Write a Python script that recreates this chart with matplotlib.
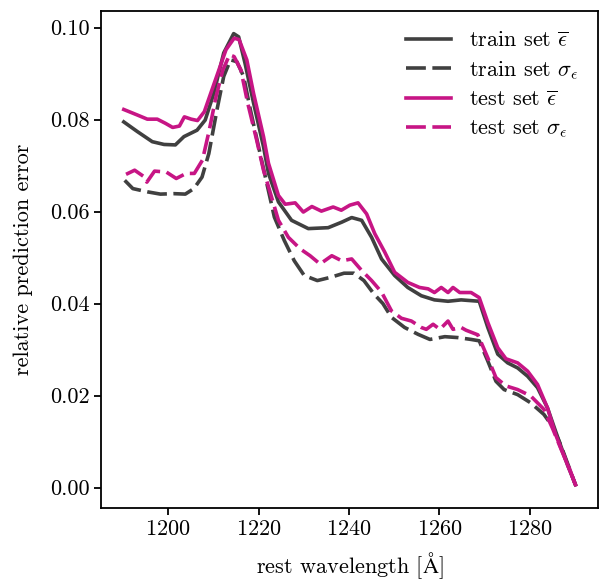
import matplotlib
matplotlib.use("Agg")
import matplotlib.pyplot as plt

plt.rcParams.update({
    "font.family": ["serif"],
    "font.serif": ["cmr10", "DejaVu Serif"],
    "mathtext.fontset": "cm",
    "axes.formatter.use_mathtext": True,
    "font.size": 16,
})

# train set mean error
wl_train_mean = [1190.2, 1193.2, 1196.5, 1199.1, 1201.6, 1203.5, 1206.4, 1208.2, 1210.1, 1212.3,
                 1214.5, 1215.6, 1217.0, 1218.9, 1221.1, 1222.2, 1224.4, 1227.3, 1231.0, 1235.4,
                 1238.4, 1240.6, 1242.8, 1245.0, 1247.2, 1250.1, 1253.0, 1256.0, 1258.9, 1261.9,
                 1264.8, 1268.8, 1270.7, 1272.9, 1275.1, 1277.3, 1279.5, 1281.7, 1283.9, 1285.7,
                 1288.3, 1290.1]
train_mean = [0.0795, 0.0774, 0.0752, 0.0746, 0.0745, 0.0763, 0.0777, 0.0799, 0.0857, 0.0945,
              0.0987, 0.0980, 0.0923, 0.0836, 0.0741, 0.0683, 0.0621, 0.0581, 0.0563, 0.0565,
              0.0577, 0.0587, 0.0581, 0.0544, 0.0497, 0.0461, 0.0435, 0.0417, 0.0408, 0.0405,
              0.0408, 0.0405, 0.0348, 0.0290, 0.0271, 0.0260, 0.0242, 0.0217, 0.0173, 0.0122,
              0.0050, 0.0006]

# train set sigma
wl_train_sig = [1190.4, 1192.2, 1195.4, 1198.3, 1201.3, 1203.8, 1205.7, 1207.5, 1209.0, 1210.8,
                1212.3, 1213.8, 1215.2, 1216.7, 1218.2, 1219.8, 1221.4, 1223.5, 1225.7, 1227.9,
                1230.1, 1233.0, 1235.9, 1238.9, 1241.1, 1243.3, 1245.5, 1247.5, 1249.4, 1252.3,
                1255.3, 1257.9, 1261.2, 1264.1, 1267.0, 1268.8, 1270.7, 1272.5, 1274.3, 1277.3,
                1280.2, 1283.1, 1285.0, 1286.8, 1289.0, 1290.1]
train_sig = [0.0668, 0.0650, 0.0643, 0.0638, 0.0639, 0.0638, 0.0650, 0.0675, 0.0726, 0.0821,
             0.0894, 0.0930, 0.0926, 0.0894, 0.0821, 0.0750, 0.0680, 0.0588, 0.0537, 0.0493,
             0.0461, 0.0450, 0.0457, 0.0466, 0.0466, 0.0450, 0.0421, 0.0400, 0.0370, 0.0348,
             0.0333, 0.0322, 0.0328, 0.0326, 0.0322, 0.0319, 0.0275, 0.0231, 0.0213, 0.0202,
             0.0184, 0.0159, 0.0133, 0.0093, 0.0035, 0.0005]

# test set mean error
wl_test_mean = [1190.2, 1193.2, 1195.4, 1197.6, 1199.4, 1201.0, 1202.5, 1203.6, 1205.1, 1206.5,
                1208.0, 1210.2, 1212.8, 1214.6, 1215.7, 1217.4, 1218.9, 1221.1, 1222.2, 1224.4,
                1225.9, 1228.1, 1229.9, 1231.8, 1233.9, 1236.5, 1238.3, 1240.2, 1242.0, 1243.9,
                1245.7, 1247.9, 1250.1, 1253.0, 1255.6, 1257.5, 1258.9, 1260.4, 1261.9, 1263.0,
                1264.5, 1267.0, 1268.8, 1270.7, 1272.9, 1274.7, 1277.3, 1279.5, 1281.7, 1283.9,
                1285.7, 1288.3, 1290.1]
test_mean = [0.0822, 0.0810, 0.0801, 0.0801, 0.0792, 0.0783, 0.0786, 0.0806, 0.0801, 0.0798,
             0.0817, 0.0879, 0.0952, 0.0977, 0.0974, 0.0930, 0.0857, 0.0763, 0.0705, 0.0635,
             0.0616, 0.0619, 0.0599, 0.0611, 0.0601, 0.0610, 0.0603, 0.0614, 0.0619, 0.0595,
             0.0552, 0.0512, 0.0468, 0.0446, 0.0435, 0.0432, 0.0424, 0.0435, 0.0424, 0.0435,
             0.0424, 0.0424, 0.0413, 0.0359, 0.0304, 0.0280, 0.0271, 0.0253, 0.0224, 0.0173,
             0.0115, 0.0050, 0.0006]

# test set sigma
wl_test_sig = [1190.7, 1192.6, 1194.8, 1195.3, 1197.0, 1199.6, 1201.8, 1204.0, 1205.8, 1207.6,
               1209.1, 1210.6, 1212.1, 1213.6, 1214.6, 1216.1, 1217.6, 1219.6, 1221.1, 1222.2,
               1224.4, 1226.6, 1229.2, 1231.4, 1233.6, 1236.2, 1238.4, 1240.6, 1242.8, 1245.0,
               1247.2, 1249.4, 1251.6, 1253.8, 1256.0, 1257.1, 1258.6, 1260.1, 1261.9, 1263.0,
               1264.8, 1265.9, 1268.5, 1270.7, 1272.5, 1274.7, 1277.3, 1280.2, 1283.1, 1285.0,
               1286.8, 1289.0, 1290.1]
test_sig = [0.0681, 0.0690, 0.0675, 0.0664, 0.0688, 0.0686, 0.0672, 0.0683, 0.0683, 0.0712,
            0.0777, 0.0850, 0.0908, 0.0941, 0.0937, 0.0908, 0.0836, 0.0755, 0.0690, 0.0654,
            0.0581, 0.0544, 0.0519, 0.0504, 0.0486, 0.0504, 0.0493, 0.0497, 0.0472, 0.0450,
            0.0425, 0.0384, 0.0368, 0.0362, 0.0348, 0.0344, 0.0355, 0.0344, 0.0362, 0.0344,
            0.0348, 0.0342, 0.0332, 0.0282, 0.0239, 0.0221, 0.0213, 0.0199, 0.0170, 0.0129,
            0.0086, 0.0035, 0.0005]

labels = [r"train set $\overline{\epsilon}$", r"train set $\sigma_\epsilon$",
          r"test set $\overline{\epsilon}$", r"test set $\sigma_\epsilon$"]

dark = "#404040"
pink = "#c71585"
lw = 2.6
dash = (5.5, 1.8)

fig = plt.figure(figsize=(6.06, 5.81), dpi=100)
ax = fig.add_axes([0.167, 0.126, 0.82, 0.855])

ax.plot(wl_train_mean, train_mean, color=dark, lw=lw, ls="-", label=labels[0])
ax.plot(wl_train_sig, train_sig, color=dark, lw=lw, dashes=dash, label=labels[1])
ax.plot(wl_test_mean, test_mean, color=pink, lw=lw, ls="-", label=labels[2])
ax.plot(wl_test_sig, test_sig, color=pink, lw=lw, dashes=dash, label=labels[3])

ax.set_xticks([1200, 1220, 1240, 1260, 1280])
ax.set_yticks([0.00, 0.02, 0.04, 0.06, 0.08, 0.10])
ax.set_yticklabels(["0.00", "0.02", "0.04", "0.06", "0.08", "0.10"])
ax.set_xlabel(r"rest wavelength [$\mathrm{\AA}$]", labelpad=8)
ax.set_ylabel("relative prediction error", labelpad=12)
for s in ax.spines.values():
    s.set_linewidth(1.3)
ax.tick_params(direction="out", length=5, width=1.3, labelsize=16)

ax.legend(loc="upper right", frameon=False, fontsize=16, handlelength=2.0,
          labelspacing=0.4)

fig.savefig("out.png", dpi=100)
